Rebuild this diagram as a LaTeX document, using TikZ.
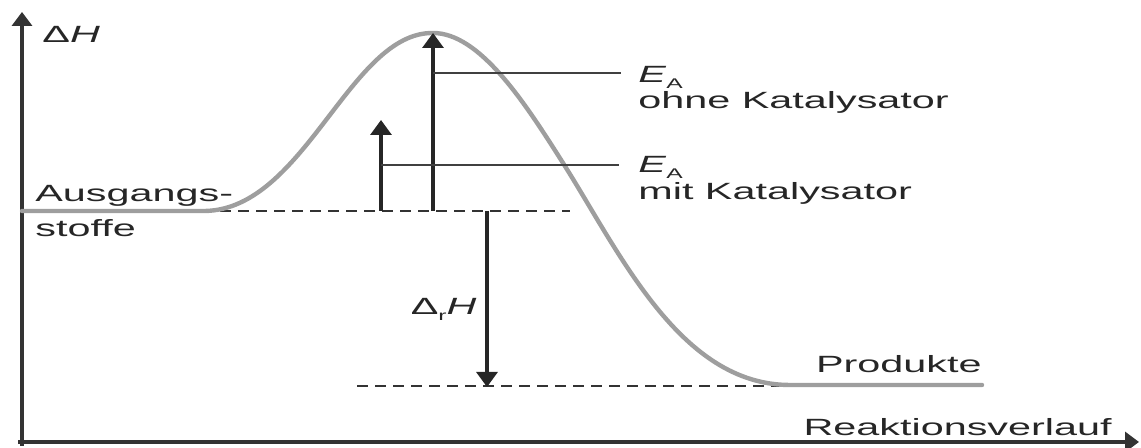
\documentclass[tikz,border=0pt]{standalone}
\usepackage{fontspec}
\setmainfont{Liberation Sans}[FakeStretch=1.76]
\usepackage{tikz}
\usetikzlibrary{arrows.meta}

% small lowered index letter (E_A, Delta_r H)
\newcommand{\lowidx}[1]{\raisebox{-3pt}{\fontsize{7}{7}\selectfont #1}}

\begin{document}
\begin{tikzpicture}[
    x=0.5pt, y=0.5pt,
    font=\fontsize{11.75}{14}\selectfont,
    axis/.style={-{Triangle[width=10pt,length=7pt]}, line width=1.6pt, black!80},
    arr/.style={-{Triangle[width=10.5pt,length=7.5pt]}, line width=1.6pt, black!85},
    lvl/.style={dashed, dash pattern=on 5.5pt off 3.5pt, line width=1.3pt, black!80},
    lead/.style={line width=0.6pt, black!75},
    lbl/.style={inner sep=0pt, text=black!85},
    curve/.style={line width=2.2pt, black!38, line join=round, line cap=round}
]
\useasboundingbox (0,0) rectangle (1141,448);
% Axes
\coordinate (ybot) at (22,2);
\coordinate (ytop) at (22,436);
\coordinate (xbeg) at (18,6);
\coordinate (xend) at (1139,6);
\draw[axis] (ybot) -- (ytop);
\draw[axis] (xbeg) -- (xend);
% Energy levels
\coordinate (eduA) at (220,237);
\coordinate (eduB) at (570,237);
\coordinate (proA) at (357,62);
\coordinate (proB) at (787,62);
\draw[lvl] (eduA) -- (eduB);
\draw[lvl] (proA) -- (proB);
% Reaction profile
\draw[curve] (22,237) -- (205,237)
    .. controls (305,239) and (350,416) .. (433,415)
    .. controls (480,415) and (525,345) .. (563,285)
    .. controls (620,195) and (680,63) .. (790,63) -- (982,63);
% Activation energies
\coordinate (mitA)  at (381,237);
\coordinate (mitT)  at (381,328);
\coordinate (ohneA) at (433,237);
\coordinate (ohneT) at (433,415);
\draw[arr] (mitA) -- (mitT);
\draw[arr] (ohneA) -- (ohneT);
\coordinate (ohneL) at (433,375);
\coordinate (ohneR) at (621,375);
\coordinate (mitL)  at (381,283);
\coordinate (mitR)  at (619,283);
\draw[lead] (ohneL) -- (ohneR);
\draw[lead] (mitL) -- (mitR);
% Reaction enthalpy
\coordinate (dhA) at (487,237);
\coordinate (dhB) at (487,61);
\draw[arr] (dhA) -- (dhB);
% Labels
\node[lbl, anchor=base west] (dH)     at (42,405)  {Δ\textit{H}};
\node[lbl, anchor=base west] (edu1)   at (35,246)  {Ausgangs-};
\node[lbl, anchor=base west] (edu2)   at (35,211)  {stoffe};
\node[lbl, anchor=base west] (eaOhne) at (638,365) {\textit{E}\lowidx{A}};
\node[lbl, anchor=base west] (txOhne) at (638,339) {ohne Katalysator};
\node[lbl, anchor=base west] (eaMit)  at (638,275) {\textit{E}\lowidx{A}};
\node[lbl, anchor=base west] (txMit)  at (638,248) {mit Katalysator};
\node[lbl, anchor=base east] (drH)    at (477,133) {Δ\lowidx{r}\textit{H}};
\node[lbl, anchor=base east] (prod)   at (982,75)  {Produkte};
\node[lbl, anchor=base east] (rv)     at (1112,12) {Reaktionsverlauf};
\end{tikzpicture}
\end{document}
